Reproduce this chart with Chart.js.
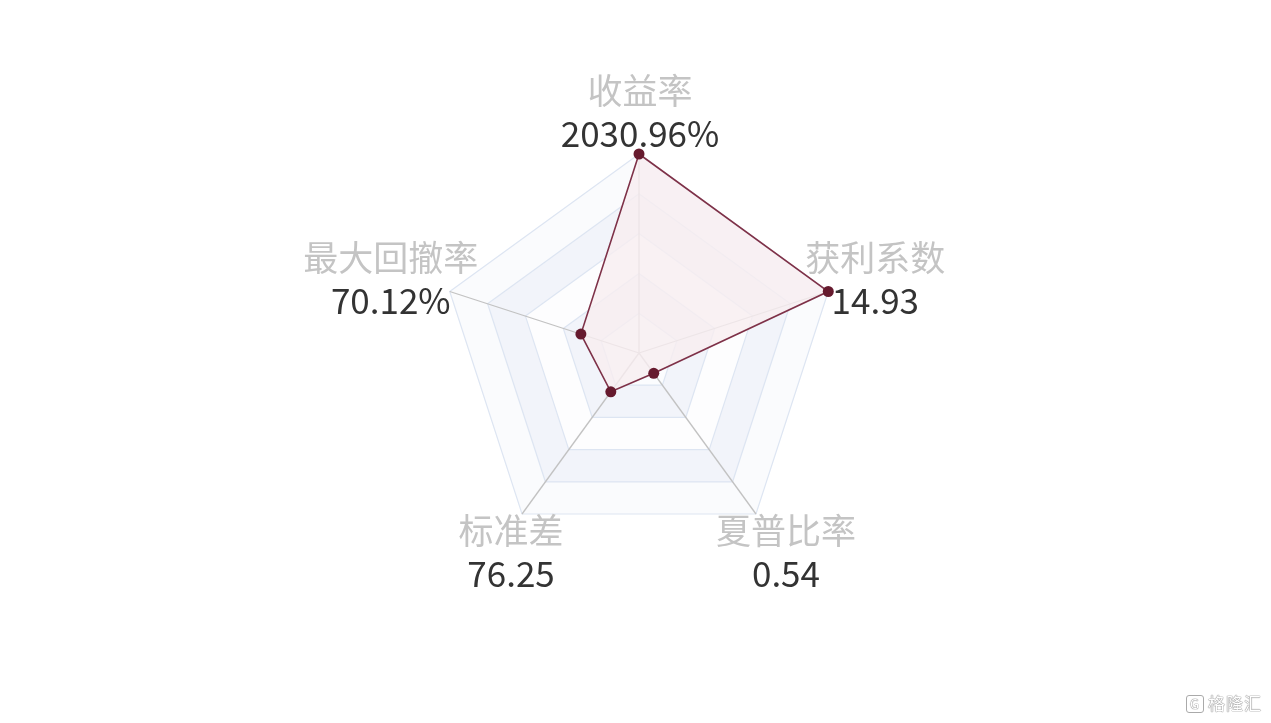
<!DOCTYPE html>
<html>
<head>
<meta charset="utf-8">
<script src="https://cdn.jsdelivr.net/npm/chart.js@4/dist/chart.umd.min.js"></script>
<style>
    body { margin: 0; background: #fff; }
    #wrap { position: relative; width: 1271px; height: 723px; }
    #logo {
        position: absolute; right: 9px; bottom: 8px;
        font: 17px "Noto Sans CJK SC", sans-serif; color: #fff;
        text-shadow: 0 0 1px #888, 0 0 1px #888, 0 0 1px #888;
        letter-spacing: 1px;
    }
    #logo span {
        display: inline-block; width: 16px; height: 16px; line-height: 16px;
        border: 1px solid #aaa; border-radius: 3px; text-align: center;
        font-size: 13px; margin-right: 4px; vertical-align: 1px;
    }
</style>
</head>
<body>
<div id="wrap">
    <canvas id="radarChart" width="1271" height="723"></canvas>
    <div id="logo"><span>G</span>格隆汇</div>
</div>
<script>
// axis names, clockwise from the top
const indicators = ['收益率', '获利系数', '夏普比率', '标准差', '最大回撤率'];
// value printed under each name
const valueLabels = ['2030.96%', '14.93', '0.54', '76.25', '70.12%'];
// where the point sits on its axis, in % of the axis max
const plotted = [100, 100, 12.6, 24.1, 30.7];
// ring steps
const ringTicks = [20, 40, 60, 80, 100];

// alternating bands between the rings
const bandColors = ['#fbfcfe', '#f2f4fa', '#fdfdfe', '#f2f4fa', '#fafbfd'];
// label block offset from its corner (x, y)
const labelShift = [[1, -42], [47, -12], [30, 38], [-11, 38], [-59, -12]];

const splitAreaPlugin = {
    id: 'splitArea',
    beforeDraw(chart) {
        const scale = chart.scales.r;
        const ctx = chart.ctx;
        const n = indicators.length;
        ctx.save();
        for (let k = ringTicks.length - 1; k >= 0; k--) {
            const outer = scale.getDistanceFromCenterForValue(ringTicks[k]);
            const inner = k > 0 ? scale.getDistanceFromCenterForValue(ringTicks[k - 1]) : 0;
            ctx.beginPath();
            for (let i = 0; i < n; i++) {
                const p = scale.getPointPosition(i, outer);
                i === 0 ? ctx.moveTo(p.x, p.y) : ctx.lineTo(p.x, p.y);
            }
            ctx.closePath();
            if (inner > 0) {
                for (let i = n - 1; i >= 0; i--) {
                    const p = scale.getPointPosition(i, inner);
                    i === n - 1 ? ctx.moveTo(p.x, p.y) : ctx.lineTo(p.x, p.y);
                }
                ctx.closePath();
            }
            ctx.fillStyle = bandColors[k];
            ctx.fill('evenodd');
        }
        ctx.restore();
    }
};

// name + value text at every corner
const cornerLabelPlugin = {
    id: 'cornerLabels',
    afterDatasetsDraw(chart) {
        const scale = chart.scales.r;
        const ctx = chart.ctx;
        ctx.save();
        ctx.textAlign = 'center';
        ctx.textBaseline = 'middle';
        ctx.font = '35px "Noto Sans CJK SC", "Noto Sans", sans-serif';
        for (let i = 0; i < indicators.length; i++) {
            const p = scale.getPointPosition(i, scale.drawingArea);
            const x = p.x + labelShift[i][0];
            const y = p.y + labelShift[i][1];
            ctx.fillStyle = '#c4c4c4';
            ctx.fillText(indicators[i], x, y - 21.5);
            ctx.fillStyle = '#333333';
            ctx.fillText(valueLabels[i], x, y + 21.5);
        }
        ctx.restore();
    }
};

const canvas = document.getElementById('radarChart');
window.radarChart = new Chart(canvas, {
    type: 'radar',
    data: {
        labels: indicators,
        datasets: [{
            data: plotted,
            borderColor: '#7e3148',
            borderWidth: 1.6,
            backgroundColor: 'rgba(248, 238, 240, 0.8)',
            fill: true,
            pointRadius: 5.5,
            pointBorderWidth: 0,
            pointBackgroundColor: '#661a2e'
        }]
    },
    options: {
        responsive: false,
        animation: false,
        layout: { padding: { left: 440, right: 433, top: 154, bottom: 171 } },
        plugins: { legend: { display: false }, tooltip: { enabled: false } },
        scales: {
            r: {
                min: 0,
                max: 100,
                ticks: { display: false, stepSize: 20 },
                pointLabels: { display: false },
                grid: { circular: false, color: '#dde5f2', lineWidth: 1.2 },
                angleLines: { color: '#c2c2c2', lineWidth: 1.3 }
            }
        }
    },
    plugins: [splitAreaPlugin, cornerLabelPlugin]
});
</script>
</body>
</html>
